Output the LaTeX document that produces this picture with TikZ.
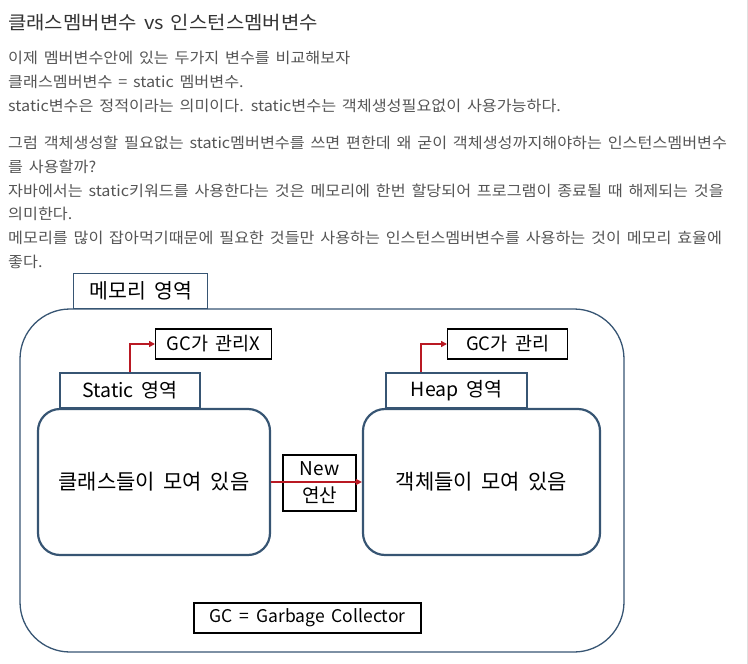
\documentclass[tikz,border=0pt]{standalone}
\usepackage{fontspec}
\setmainfont{Noto Sans CJK KR}
\newfontfamily\pagefont[FakeStretch=1.08, WordSpace=1.6]{Noto Sans CJK KR}
\newfontfamily\boxfont[WordSpace=1.8]{Noto Sans CJK KR}
\usepackage{xcolor}
\usepackage{tikz}
\usetikzlibrary{arrows.meta, positioning, calc}

\definecolor{textgray}{RGB}{85,85,85}
\definecolor{titlegray}{RGB}{51,51,51}
\definecolor{memblue}{RGB}{55,85,115}
\definecolor{gcred}{RGB}{185,25,35}

\begin{document}
\begin{tikzpicture}[
    x=1pt, y=-1pt,
    line/.style={anchor=west, inner sep=0pt, text=textgray,
                 font=\pagefont\fontsize{15}{18}\selectfont},
    area/.style={draw=memblue, line width=2.2pt, rounded corners=22pt,
                 minimum width=232pt, minimum height=146pt,
                 font=\boxfont\fontsize{21}{25}\selectfont},
    tag/.style={draw=memblue, line width=2.2pt, fill=white, anchor=south west,
                minimum width=140pt, minimum height=35pt, inner sep=0pt,
                font=\boxfont\fontsize{19.5}{23}\selectfont},
    note/.style={draw, line width=1.1pt, anchor=west, minimum height=30pt,
                 inner sep=0pt, font=\boxfont\fontsize{18.5}{22}\selectfont},
    arr/.style={-{Triangle[length=6pt, width=6pt]}, gcred, line width=2.5pt}
  ]
  \useasboundingbox (0,0) rectangle (748,664);
  % Page text
  \node[anchor=west, inner sep=0pt, text=titlegray,
        font=\pagefont\fontsize{18.5}{22}\selectfont] (title) at (8,23)
    {클래스멤버변수 vs 인스턴스멤버변수};
  \foreach \y/\txt in {58/{이제 멤버변수안에 있는 두가지 변수를 비교해보자},
                       82/{클래스멤버변수 = static 멤버변수.},
                       106/{static변수은 정적이라는 의미이다. static변수는 객체생성필요없이 사용가능하다.},
                       143/{그럼 객체생성할 필요없는 static멤버변수를 쓰면 편한데 왜 굳이 객체생성까지해야하는 인스턴스멤버변수},
                       167/{를 사용할까?},
                       191/{자바에서는 static키워드를 사용한다는 것은 메모리에 한번 할당되어 프로그램이 종료될 때 해제되는 것을},
                       214/{의미한다.},
                       238/{메모리를 많이 잡아먹기때문에 필요한 것들만 사용하는 인스턴스멤버변수를 사용하는 것이 메모리 효율에},
                       262/{좋다.}} {
    \node[line] (l\y) at (8,\y) {\txt};
  }
  \draw[black!12] (747,0) -- (747,664);
  % Memory area
  \node[draw=memblue, line width=1.3pt, rounded corners=50pt,
        minimum width=604pt, minimum height=343pt] (mem) at (322,480.5) {};
  \node[tag, line width=1.3pt, minimum width=134pt,
        font=\boxfont\fontsize{20.5}{24}\selectfont] (memtag) at (73,309) {메모리 영역};
  % Static area
  \node[area] (cls) at (154,482) {클래스들이 모여 있음};
  \node[tag] (stag) at (59,409) {Static 영역};
  \node[note, minimum width=116pt] (gcx) at (155,344) {GC가 관리X};
  \draw[arr] (stag.north) |- (gcx.west);
  % Heap area
  \node[area, minimum width=237pt] (obj) at (481.5,482) {객체들이 모여 있음};
  \node[tag, minimum width=141pt] (htag) at (385,409) {Heap 영역};
  \node[note, minimum width=120pt] (gc) at (447,344) {GC가 관리};
  \draw[arr] ($(htag.north west)!0.25!(htag.north east)$) |- (gc.west);
  % New
  \node[note, anchor=center, minimum width=73pt, minimum height=56pt,
        align=center, font=\boxfont\fontsize{19}{27}\selectfont] (new) at (319.5,483)
    {New\\연산};
  \draw[arr] (cls.east) -- (obj.west);
  \node[note, anchor=center, minimum width=227pt,
        font=\boxfont\fontsize{17.5}{20}\selectfont] (gcdef) at (307.5,618)
    {GC = Garbage Collector};
\end{tikzpicture}
\end{document}
